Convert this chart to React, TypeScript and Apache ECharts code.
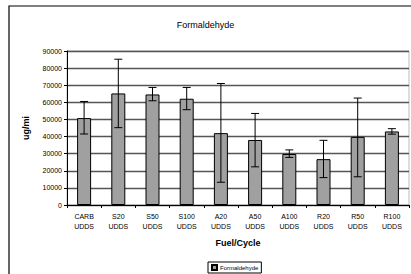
import React, { useEffect, useRef } from "react";
import * as echarts from "echarts";

const categories = ["CARB\nUDDS", "S20\nUDDS", "S50\nUDDS", "S100\nUDDS", "A20\nUDDS", "A50\nUDDS", "A100\nUDDS", "R20\nUDDS", "R50\nUDDS", "R100\nUDDS"];
const values = [50800, 65200, 64600, 62100, 42000, 38000, 29800, 26800, 39800, 43000];
const errLow = [41500, 45200, 60900, 55700, 13300, 22300, 27800, 16000, 16500, 41400];
const errHigh = [60500, 85200, 68700, 68700, 71000, 53500, 32200, 37800, 62500, 44600];
const yTicks = { min: 0, max: 90000, interval: 10000 };

export default function App() {
  const ref = useRef<HTMLDivElement>(null);
  useEffect(() => {
    if (!ref.current) return;
    const chart = echarts.init(ref.current, null, { renderer: "svg" });
    const font = "Liberation Sans";
    chart.setOption({
      animation: false,
      backgroundColor: "#fff",
      textStyle: { fontFamily: font },
      title: {
        text: "Formaldehyde",
        left: "center",
        top: 15,
        textStyle: { fontFamily: font, fontSize: 9, fontWeight: "normal", color: "#000" },
      },
      graphic: [
        {
          type: "rect",
          shape: { x: 9, y: 6, width: 420, height: 290 },
          style: { fill: "none", stroke: "#000", lineWidth: 1.2 },
          silent: true,
        },
      ],
      legend: {
        left: 208,
        top: 262,
        itemWidth: 5,
        itemHeight: 5,
        itemGap: 2,
        padding: [2, 3, 2, 3],
        borderColor: "#000",
        borderWidth: 1,
        textStyle: { fontFamily: font, fontSize: 6, color: "#000", padding: [0, 0, 0, -2] },
        data: [{ name: "Formaldehyde", icon: "rect" }],
      },
      grid: { left: 67, right: 2, top: 51, bottom: 69, show: true, borderColor: "#bbb", borderWidth: 1 },
      xAxis: {
        type: "category",
        data: categories,
        name: "Fuel/Cycle",
        nameLocation: "middle",
        nameGap: 33,
        nameTextStyle: { fontFamily: font, fontSize: 9, fontWeight: "bold", color: "#000" },
        axisLine: { lineStyle: { color: "#000", width: 1 } },
        axisTick: { show: true, length: 3, lineStyle: { color: "#000" } },
        axisLabel: { fontFamily: font, fontSize: 7, color: "#000", lineHeight: 10, margin: 6, interval: 0 },
      },
      yAxis: {
        type: "value",
        min: yTicks.min,
        max: yTicks.max,
        interval: yTicks.interval,
        name: "ug/mi",
        nameLocation: "middle",
        nameGap: 37,
        nameTextStyle: { fontFamily: font, fontSize: 9, fontWeight: "bold", color: "#000" },
        axisLine: { show: true, lineStyle: { color: "#000", width: 1 } },
        axisTick: { show: true, length: 3, lineStyle: { color: "#000" } },
        axisLabel: { fontFamily: font, fontSize: 7, color: "#000", margin: 5, formatter: (v: number) => String(v) },
        splitLine: { show: true, lineStyle: { color: "#555", width: 1.3 } },
      },
      series: [
        {
          name: "Formaldehyde",
          type: "bar",
          data: values,
          barWidth: 14,
          itemStyle: { color: "#a0a0a0", borderColor: "#000", borderWidth: 1 },
        },
        {
          name: "err",
          type: "custom",
          data: values.map((_, i) => [i, errLow[i], errHigh[i]]),
          z: 5,
          renderItem: (params: any, api: any) => {
            const x = api.value(0);
            const lo = api.coord([x, api.value(1)]);
            const hi = api.coord([x, api.value(2)]);
            const hw = 4;
            const style = { stroke: "#000", lineWidth: 1 };
            return {
              type: "group",
              children: [
                { type: "line", shape: { x1: lo[0], y1: lo[1], x2: hi[0], y2: hi[1] }, style },
                { type: "line", shape: { x1: lo[0] - hw, y1: lo[1], x2: lo[0] + hw, y2: lo[1] }, style },
                { type: "line", shape: { x1: hi[0] - hw, y1: hi[1], x2: hi[0] + hw, y2: hi[1] }, style },
              ],
            };
          },
        },
      ],
    });
    return () => chart.dispose();
  }, []);
  return (
    <div
      ref={ref}
      style={{ position: "absolute", left: 0, top: 0, width: 411, height: 274 }}
    />
  );
}
